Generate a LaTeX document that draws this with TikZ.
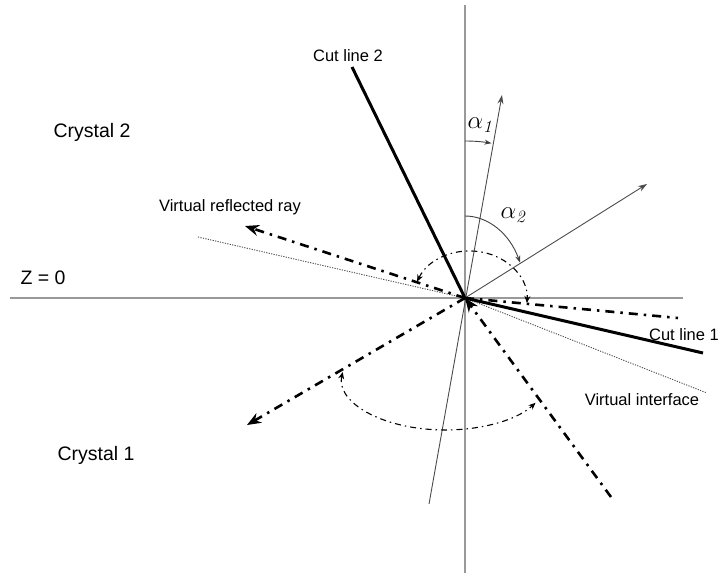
\documentclass[tikz,border=0pt]{standalone}
\usepackage[no-math]{fontspec}
\setmainfont{Liberation Sans}
\usetikzlibrary{arrows.meta}

\begin{document}
\begin{tikzpicture}[x=1pt, y=1pt, >={Stealth[length=9pt]},
  axis/.style={draw=black!40, line width=1.6pt},
  cutline/.style={line width=3pt},
  thinray/.style={draw=black!70, line width=0.9pt, -{Stealth[length=9pt,width=6pt]}},
  ray/.style={line width=2.6pt, dash pattern=on 9pt off 6pt on 2.5pt off 6pt},
  bigtip/.style={-{Stealth[length=14pt,width=11pt]}},
  guide/.style={draw=black!70, line width=0.9pt, dash pattern=on 1.2pt off 1.3pt},
  anglearc/.style={line width=1.1pt, dash pattern=on 6pt off 4pt on 1.5pt off 4pt, {Stealth[length=7pt,width=6pt]}-{Stealth[length=7pt,width=6pt]}},
  alphaarc/.style={draw=black!75, line width=0.9pt, -{Stealth[length=7pt,width=5pt]}},
  lbl/.style={font=\fontsize{16.5}{20}\selectfont},
  biglbl/.style={font=\fontsize{19.5}{23}\selectfont}]
\useasboundingbox (-465,-275) rectangle (254,298);
% points of the construction
\coordinate (O) at (0,0);
\coordinate (ztop) at (0,293);
\coordinate (zbot) at (0,-275);
\coordinate (xleft) at (-455,0);
\coordinate (xright) at (218,0);
\coordinate (cuttwoend) at (-113,231);
\coordinate (cutoneend) at (238,-55);
\coordinate (aonetip) at (37,203);
\coordinate (aonebot) at (-36,-206);
\coordinate (atwotip) at (182,114);
\coordinate (virtreftip) at (-220,72);
\coordinate (reftip) at (-218,-127);
\coordinate (incstart) at (146,-199);
\coordinate (mirrorend) at (213,-20);
\coordinate (guideleft) at (-267,61);
\coordinate (guideright) at (242,-95);
% axes
\draw[axis] (ztop) -- (zbot);
\draw[axis] (xleft) -- (xright);
% virtual interface (dotted)
\draw[guide] (guideleft) -- (O);
\draw[guide] (O) -- (guideright);
% cut lines
\draw[cutline] (cuttwoend) -- (O);
\draw[cutline] (O) -- (cutoneend);
% thin rays for alpha_1 and alpha_2
\draw[thinray] (aonebot) -- (aonetip);
\draw[thinray] (O) -- (atwotip);
% dash-dot rays
\draw[ray, bigtip] (incstart) -- (O);
\draw[ray, bigtip] (O) -- (reftip);
\draw[ray, bigtip] (O) -- (virtreftip);
\draw[ray] (O) -- (mirrorend);
% angle arcs
\draw[anglearc] (-47.85,16.36) arc[start angle=158, end angle=-3.5, x radius=57, y radius=49];
\draw[anglearc] (-122.3,-74) arc[start angle=173.4, end angle=331.5, x radius=103, y radius=52];
\draw[alphaarc] (0,157) arc[start angle=90, end angle=80.3, radius=157];
\draw[alphaarc] (0,82) arc[start angle=90, end angle=25.6, x radius=61, y radius=82];
% labels
\node[lbl] (cuttwo) at (-117,242) {Cut line 2};
\node[lbl] (cutone) at (219,-37) {Cut line 1};
\node[lbl] (virtref) at (-235,91) {Virtual reflected ray};
\node[lbl] (virtint) at (177,-102) {Virtual interface};
\node[biglbl] (crystaltwo) at (-373,166) {Crystal 2};
\node[biglbl] (crystalone) at (-369,-157) {Crystal 1};
\node[biglbl] (zzero) at (-422,20) {Z = 0};
\node[font=\fontsize{24}{28}\selectfont] (alphaone) at (16,173) {$\alpha_{\mathit{1}}$};
\node[font=\fontsize{24}{28}\selectfont] (alphatwo) at (49,83) {$\alpha_{\mathit{2}}$};
\end{tikzpicture}
\end{document}
